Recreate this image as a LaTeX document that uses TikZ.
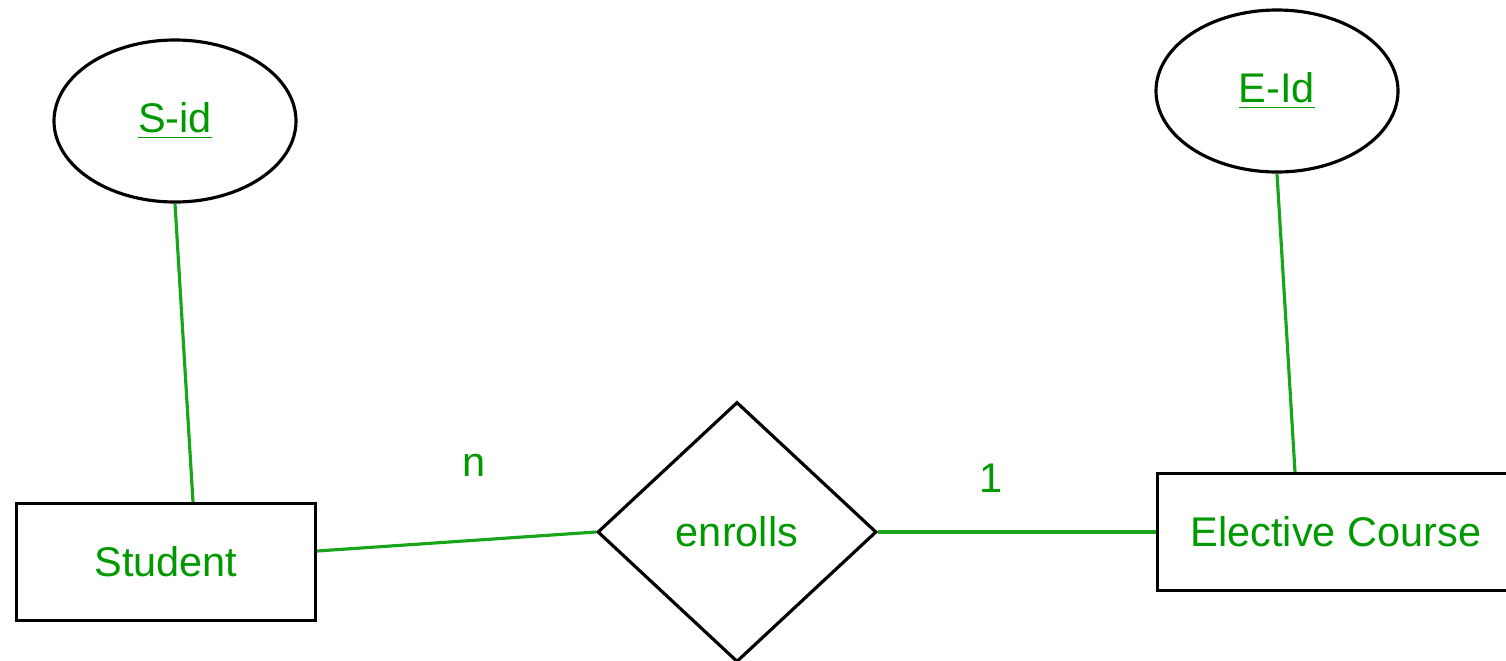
\documentclass[tikz,border=0pt]{standalone}
\usepackage{fontspec}
\setmainfont{Liberation Sans}
\definecolor{ergreen}{RGB}{0,153,0}
\definecolor{erline}{RGB}{25,165,25}
\usetikzlibrary{shapes}

\begin{document}
\begin{tikzpicture}[
    entity/.style={draw, line width=0.9pt, minimum width=2.99cm, minimum height=1.17cm, text=ergreen},
    relation/.style={diamond, draw, line width=0.9pt, inner sep=0pt, minimum width=2.79cm, minimum height=2.6cm, text=ergreen},
    attribute/.style={ellipse, draw, line width=0.9pt, minimum width=2.42cm, minimum height=1.62cm, text=ergreen},
    card/.style={text=ergreen},
    link/.style={line width=0.9pt, erline}
  ]
      \fontsize{11.8pt}{14pt}\selectfont
      \useasboundingbox (0,0) rectangle (15.06,6.6);
      \node[entity] (student) at (1.66,0.98) {Student};
      \node[relation, right of=student, node distance=5.71cm, yshift=0.3cm] (enrolls) {enrolls};
      \node[entity, right of=enrolls, node distance=5.99cm, minimum width=3.57cm] (course) {Elective Course};
      \node[attribute, above of=student, node distance=4.41cm, xshift=0.09cm] (sid) {\underline{S-id}};
      \node[attribute, above of=course, node distance=4.41cm, xshift=-0.59cm] (eid) {\underline{E-Id}};
      \node[card, right of=student, node distance=3.08cm, yshift=0.97cm] (n) {n};
      \node[card, right of=enrolls, node distance=2.54cm, yshift=0.54cm] (one) {1};
      % keys
      \draw[link] (sid.south) -- ([xshift=0.27cm]student.north);
      \draw[link] (eid.south) -- ([xshift=-0.41cm]course.north);
      % relationship
      \draw[link] ([yshift=0.11cm]student.east) -- (enrolls.west);
      \draw[link] (enrolls.east) -- (course.west);
    \end{tikzpicture}
\end{document}
